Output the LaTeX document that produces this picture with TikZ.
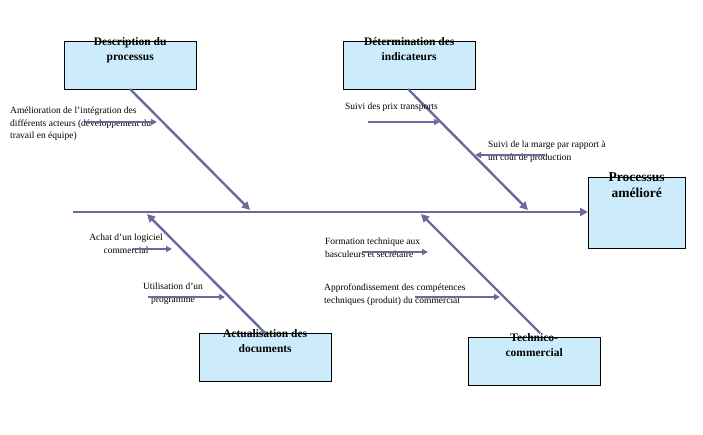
\documentclass[tikz,border=0pt]{standalone}
\usepackage{fontspec}
\setmainfont{Liberation Serif}
\usetikzlibrary{arrows.meta}
\definecolor{ln}{HTML}{6A6A9C}
\definecolor{bx}{HTML}{CCECFC}
\begin{document}
\begin{tikzpicture}[x=1pt,y=-1pt,
 box/.style={draw=black,fill=bx,minimum width=132pt,minimum height=48pt,anchor=north west,inner sep=0pt},
 btxt/.style={align=center,font=\bfseries\fontsize{11.5}{15.5}\selectfont,anchor=north,inner sep=0pt},
 bone/.style={draw=ln,line width=2.4pt,-{Triangle[length=8pt,width=8pt]}},
 sub/.style={draw=ln,line width=1.8pt,-{Triangle[length=6pt,width=6pt]}},
 lab/.style={font=\fontsize{9.5}{12.5}\selectfont,align=left,inner sep=0pt}]
\useasboundingbox (0,0) rectangle (703,434);
\node[box] (desc) at (64,41) {};
\node[btxt] (desct) at ([yshift=4pt]desc.north) {Description du\\processus};
\node[box] (det) at (343,41) {};
\node[btxt] (dett) at ([yshift=4pt]det.north) {Détermination des\\indicateurs};
\node[box] (act) at (199,333) {};
\node[btxt] (actt) at ([yshift=4pt]act.north) {Actualisation des\\documents};
\node[box] (tech) at (468,337) {};
\node[btxt] (techt) at ([yshift=4pt]tech.north) {Technico-\\commercial};
\node[box,minimum width=97pt,minimum height=71pt] (proc) at (588,177) {};
\node[btxt,font=\bfseries\fontsize{13.5}{16.5}\selectfont] (proct) at ([yshift=5pt]proc.north) {Processus\\amélioré};
\coordinate (s0) at (73,212);
\draw[bone] (s0) -- (proc.west |- s0);
\coordinate (d1) at (130,89); \coordinate (d2) at (250,210);
\coordinate (e1) at (408,89); \coordinate (e2) at (528,210);
\coordinate (a1) at (265,333); \coordinate (a2) at (147,214);
\coordinate (t1) at (540,333); \coordinate (t2) at (421,214);
\draw[bone] (d1) -- (d2);
\draw[bone] (e1) -- (e2);
\draw[bone] (a1) -- (a2);
\draw[bone] (t1) -- (t2);
\node[lab,anchor=north west] (l1) at (10,107) {Amélioration de l’intégration des\\différents acteurs (développement du\\travail en équipe)};
\coordinate (l1a) at (85,122); \coordinate (l1b) at (157,122);
\draw[sub] (l1a) -- (l1b);
\node[lab,anchor=north west] (l2) at (345,103) {Suivi des prix transports};
\coordinate (l2a) at (368,122); \coordinate (l2b) at (440,122);
\draw[sub] (l2a) -- (l2b);
\node[lab,anchor=north west] (l3) at (488,141) {Suivi de la marge par rapport à\\un coût de production};
\coordinate (l3a) at (545,155); \coordinate (l3b) at (475,155);
\draw[sub] (l3a) -- (l3b);
\node[lab,align=center,anchor=north] (l4) at (126,234) {Achat d’un logiciel\\commercial};
\coordinate (l4a) at (133,249); \coordinate (l4b) at (172,249);
\draw[sub] (l4a) -- (l4b);
\node[lab,align=center,anchor=north] (l5) at (173,283) {Utilisation d’un\\programme};
\coordinate (l5a) at (148,297); \coordinate (l5b) at (225,297);
\draw[sub] (l5a) -- (l5b);
\node[lab,anchor=north west] (l6) at (325,238) {Formation technique aux\\basculeurs et secrétaire};
\coordinate (l6a) at (362,252); \coordinate (l6b) at (428,252);
\draw[sub] (l6a) -- (l6b);
\node[lab,anchor=north west] (l7) at (324,284) {Approfondissement des compétences\\techniques (produit) du commercial};
\coordinate (l7a) at (415,297); \coordinate (l7b) at (500,297);
\draw[sub] (l7a) -- (l7b);
\end{tikzpicture}
\end{document}
